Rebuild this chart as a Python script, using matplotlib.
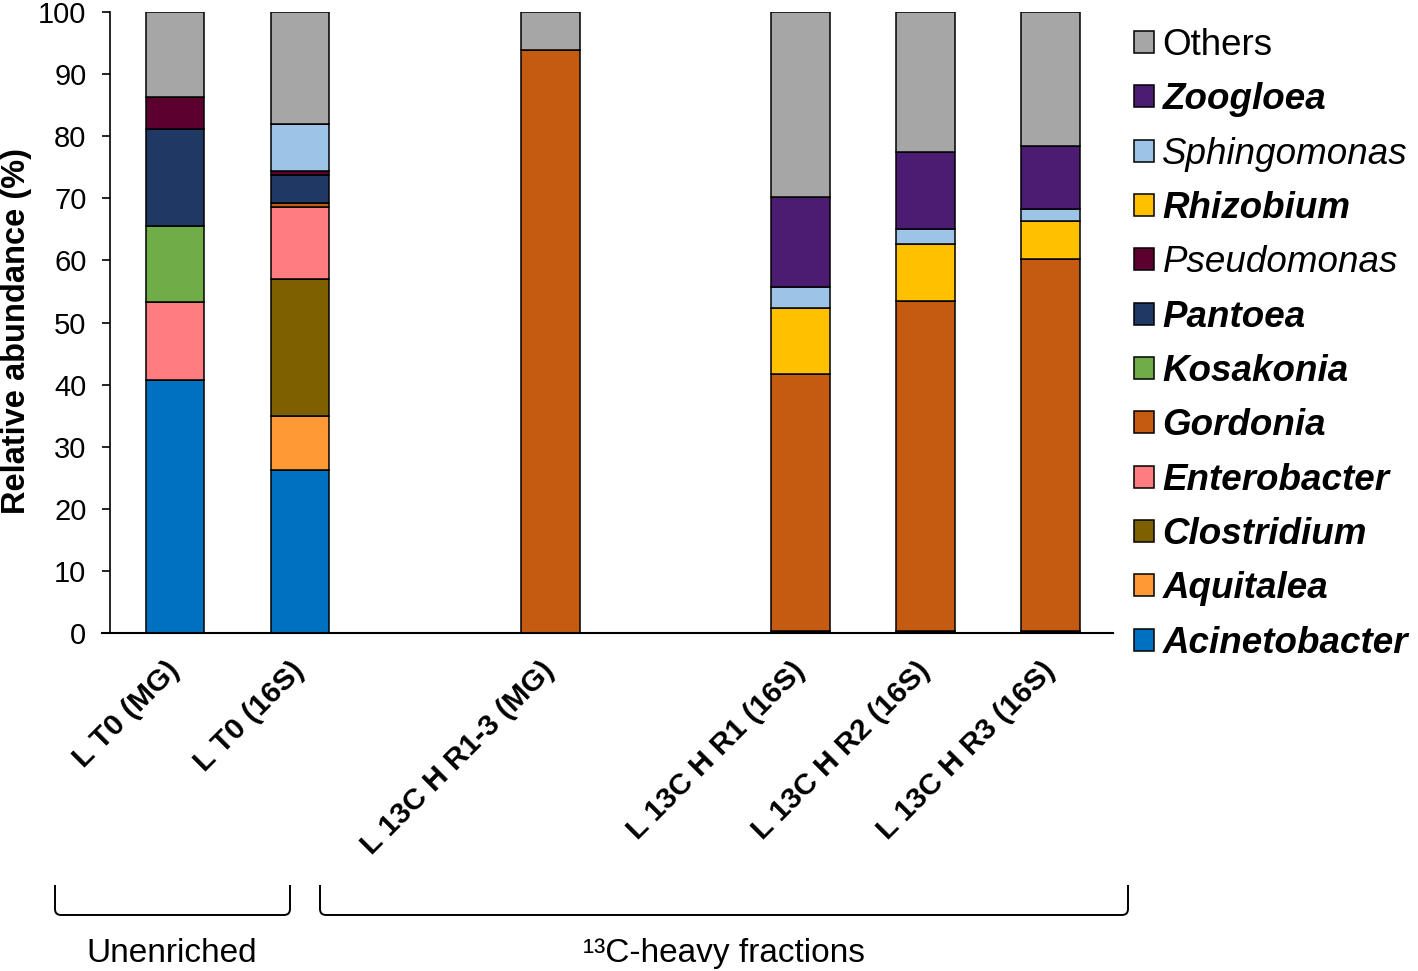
import numpy as np
import matplotlib
matplotlib.use("Agg")
import matplotlib.pyplot as plt
from matplotlib.path import Path
from matplotlib.patches import PathPatch, Patch

plt.rcParams["font.family"] = ["Liberation Sans", "DejaVu Sans"]

# ── Data ────────────────────────────────────────────
samples = ["L T0 (MG)", "L T0 (16S)", "L 13C H R1-3 (MG)",
           "L 13C H R1 (16S)", "L 13C H R2 (16S)", "L 13C H R3 (16S)"]
positions = [0, 1, 3, 5, 6, 7]

# stacked bottom -> top
acinetobacter = [40.7, 26.2, 0.0, 0.4, 0.4, 0.4]
aquitalea = [0.0, 8.7, 0.0, 0.0, 0.0, 0.0]
clostridium = [0.0, 22.1, 0.0, 0.0, 0.0, 0.0]
enterobacter = [12.6, 11.6, 0.0, 0.0, 0.0, 0.0]
gordonia = [0.0, 0.7, 93.9, 41.3, 53.1, 59.8]
kosakonia = [12.2, 0.0, 0.0, 0.0, 0.0, 0.0]
pantoea = [15.7, 4.5, 0.0, 0.0, 0.0, 0.0]
pseudomonas = [5.1, 0.6, 0.0, 0.0, 0.0, 0.0]
rhizobium = [0.0, 0.0, 0.0, 10.6, 9.1, 6.1]
sphingomonas = [0.0, 7.5, 0.0, 3.4, 2.5, 2.0]
zoogloea = [0.0, 0.0, 0.0, 14.5, 12.4, 10.1]
others = [13.7, 18.1, 6.1, 29.8, 22.5, 21.6]

series = [
    ("Acinetobacter", acinetobacter, "#0070c0", "italic", "bold"),
    ("Aquitalea", aquitalea, "#ff9933", "italic", "bold"),
    ("Clostridium", clostridium, "#7f6000", "italic", "bold"),
    ("Enterobacter", enterobacter, "#ff7c80", "italic", "bold"),
    ("Gordonia", gordonia, "#c55a11", "italic", "bold"),
    ("Kosakonia", kosakonia, "#70ad47", "italic", "bold"),
    ("Pantoea", pantoea, "#203864", "italic", "bold"),
    ("Pseudomonas", pseudomonas, "#5c0030", "italic", "normal"),
    ("Rhizobium", rhizobium, "#ffc000", "italic", "bold"),
    ("Sphingomonas", sphingomonas, "#9dc3e6", "italic", "normal"),
    ("Zoogloea", zoogloea, "#4b1c72", "italic", "bold"),
    ("Others", others, "#a6a6a6", "normal", "normal"),
]

W, H = 1418, 971
fig = plt.figure(figsize=(W / 100, H / 100), dpi=100)
ax = fig.add_axes([110 / W, 1 - 633 / H, (1113 - 110) / W, (633 - 12) / H])

bottom = np.zeros(len(samples))
for name, vals, color, style, weight in series:
    vals = np.array(vals)
    ax.bar(positions, vals, bottom=bottom, width=0.47, color=color,
           edgecolor="black", linewidth=1.1)
    bottom += vals

ax.set_xlim(-0.52, 7.5)
ax.set_ylim(0, 100)
ax.set_yticks(range(0, 101, 10))
ax.tick_params(axis="y", labelsize=21, length=6, width=1.2, pad=11)
ax.set_xticks(positions)
ax.set_xticklabels(samples, rotation=45, ha="right", va="center",
                   rotation_mode="anchor", fontsize=21.5, fontweight="bold")
ax.tick_params(axis="x", length=0, pad=24)
ax.spines["top"].set_visible(False)
ax.spines["right"].set_visible(False)
ax.spines["left"].set_linewidth(1.2)
ax.spines["bottom"].set_linewidth(1.5)
ax.spines["bottom"].set_bounds(-0.58, 7.5)
ax.set_ylabel("Relative abundance (%)", fontsize=23.5, fontweight="bold",
              labelpad=4, y=0.487)

# legend (Others on top)
handles = [Patch(facecolor=c, edgecolor="black", linewidth=1.1)
           for _, _, c, _, _ in series][::-1]
labels = [s[0] for s in series][::-1]
leg = fig.legend(handles, labels, loc="upper left",
                 bbox_to_anchor=(1112 / W, 1 - 6 / H), frameon=False,
                 fontsize=26.5, handlelength=0.55, handleheight=0.55,
                 handletextpad=0.22, labelspacing=0.525, borderpad=0.1)
for txt, (_, _, _, style, weight) in zip(leg.get_texts(), series[::-1]):
    txt.set_fontstyle(style)
    txt.set_fontweight(weight)


def bracket(x0, x1, y0, y1, r=6):
    """Draw an open-top bracket in figure pixel coordinates."""
    pts = [(x0, y0), (x0, y1 - r), (x0, y1), (x0 + r, y1),
           (x1 - r, y1), (x1, y1), (x1, y1 - r), (x1, y0)]
    codes = [Path.MOVETO, Path.LINETO, Path.CURVE3, Path.CURVE3,
             Path.LINETO, Path.CURVE3, Path.CURVE3, Path.LINETO]
    pts = [(x / W, 1 - y / H) for x, y in pts]
    fig.add_artist(PathPatch(Path(pts, codes), fill=False, lw=1.4,
                             edgecolor="black", transform=fig.transFigure))


bracket(55, 290, 885, 915)
bracket(320, 1128, 885, 915)
fig.text(172 / W, 1 - 953 / H, "Unenriched", fontsize=24,
         ha="center", va="center")
fig.text(724 / W, 1 - 953 / H, "¹³C-heavy fractions", fontsize=24,
         ha="center", va="center")

fig.savefig("out.png", dpi=100)
